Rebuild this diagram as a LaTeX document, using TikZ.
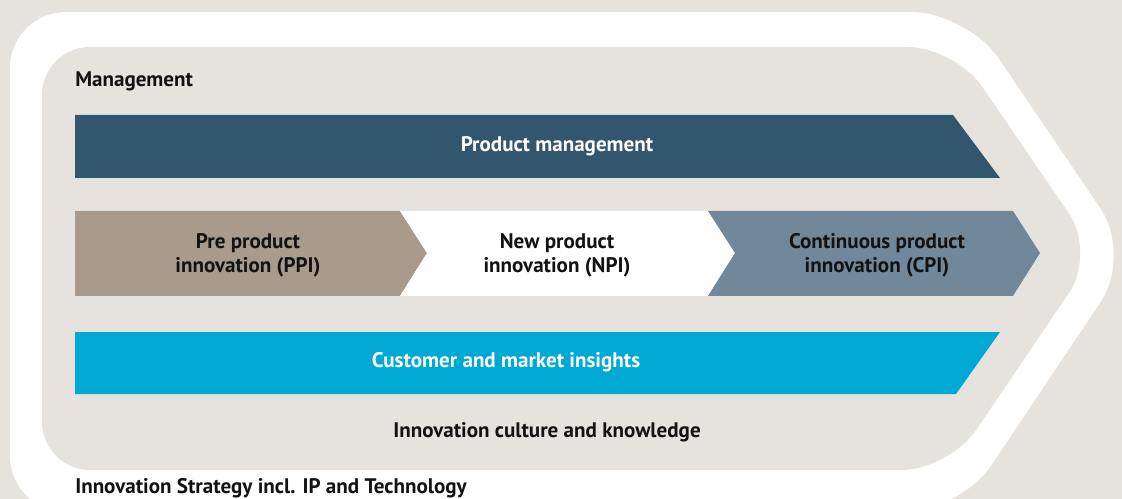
\documentclass[tikz,border=0pt]{standalone}
\usepackage{fontspec}
\setmainfont{PT Sans}
\usetikzlibrary{positioning}

\definecolor{bgbeige}{HTML}{E6E2DE}
\definecolor{pmblue}{HTML}{31566D}
\definecolor{ppitaupe}{HTML}{A89A8C}
\definecolor{cpigrey}{HTML}{71889B}
\definecolor{cmicyan}{HTML}{00A9D4}

\tikzset{
  lbl/.style={font=\bfseries\fontsize{15.8}{18}\selectfont, inner sep=0pt, text=black!93},
  lblw/.style={lbl, text=white},
  lblc/.style={lbl, align=center},
}

\begin{document}
\begin{tikzpicture}[x=0.75pt, y=-0.75pt]
\useasboundingbox (0,0) rectangle (1122,499);
\clip (0,0) rectangle (1122,499);
\fill[bgbeige] (0,0) rectangle (1122,499);

% ---- strategy frame (white) and culture field ------------------------------
\fill[white, rounded corners=42]
  (10,12) -- (967,12) -- (1132,255) -- (960,512) -- (10,512) -- cycle;
\fill[bgbeige, rounded corners=36]
  (42,47) -- (955,47) -- (1096,253) -- (949,470) -- (42,470) -- cycle;

% ---- management bars -------------------------------------------------------
\fill[pmblue]  (75,115) -- (953,115) -- (1000,178) -- (75,178) -- cycle;
\fill[ppitaupe] (75,211) -- (400,211) -- (427,253) -- (400,296) -- (75,296) -- cycle;
\fill[white]    (400,211) -- (708,211) -- (735,253) -- (708,296) -- (400,296)
  -- (427,253) -- cycle;
\fill[cpigrey]  (708,211) -- (1013,211) -- (1040,253) -- (1013,296) -- (708,296)
  -- (735,253) -- cycle;
\fill[cmicyan] (75,332) -- (1000,332) -- (956,394) -- (75,394) -- cycle;

% ---- labels ----------------------------------------------------------------
\node[lbl, anchor=base west] (mgmt) at (75,87) {Management};
\node[lblw, anchor=base] (pm) at (557,152) {Product management};
\node[lblw, lblc] (ppi) at (248,255) {Pre product\\innovation (PPI)};
\node[lblc] (npi) at (557,255) {New product\\innovation (NPI)};
\node[lblw, lblc] (cpi) at (877,255) {Continuous product\\innovation (CPI)};
\node[lblw, anchor=base] (cmi) at (506,368) {Customer and market insights};
\node[lbl, anchor=base] (culture) at (547,437) {Innovation culture and knowledge};
\node[lbl, anchor=base west] (strategy) at (75,493)
  {Innovation Strategy incl. IP and Technology};

\end{tikzpicture}
\end{document}
